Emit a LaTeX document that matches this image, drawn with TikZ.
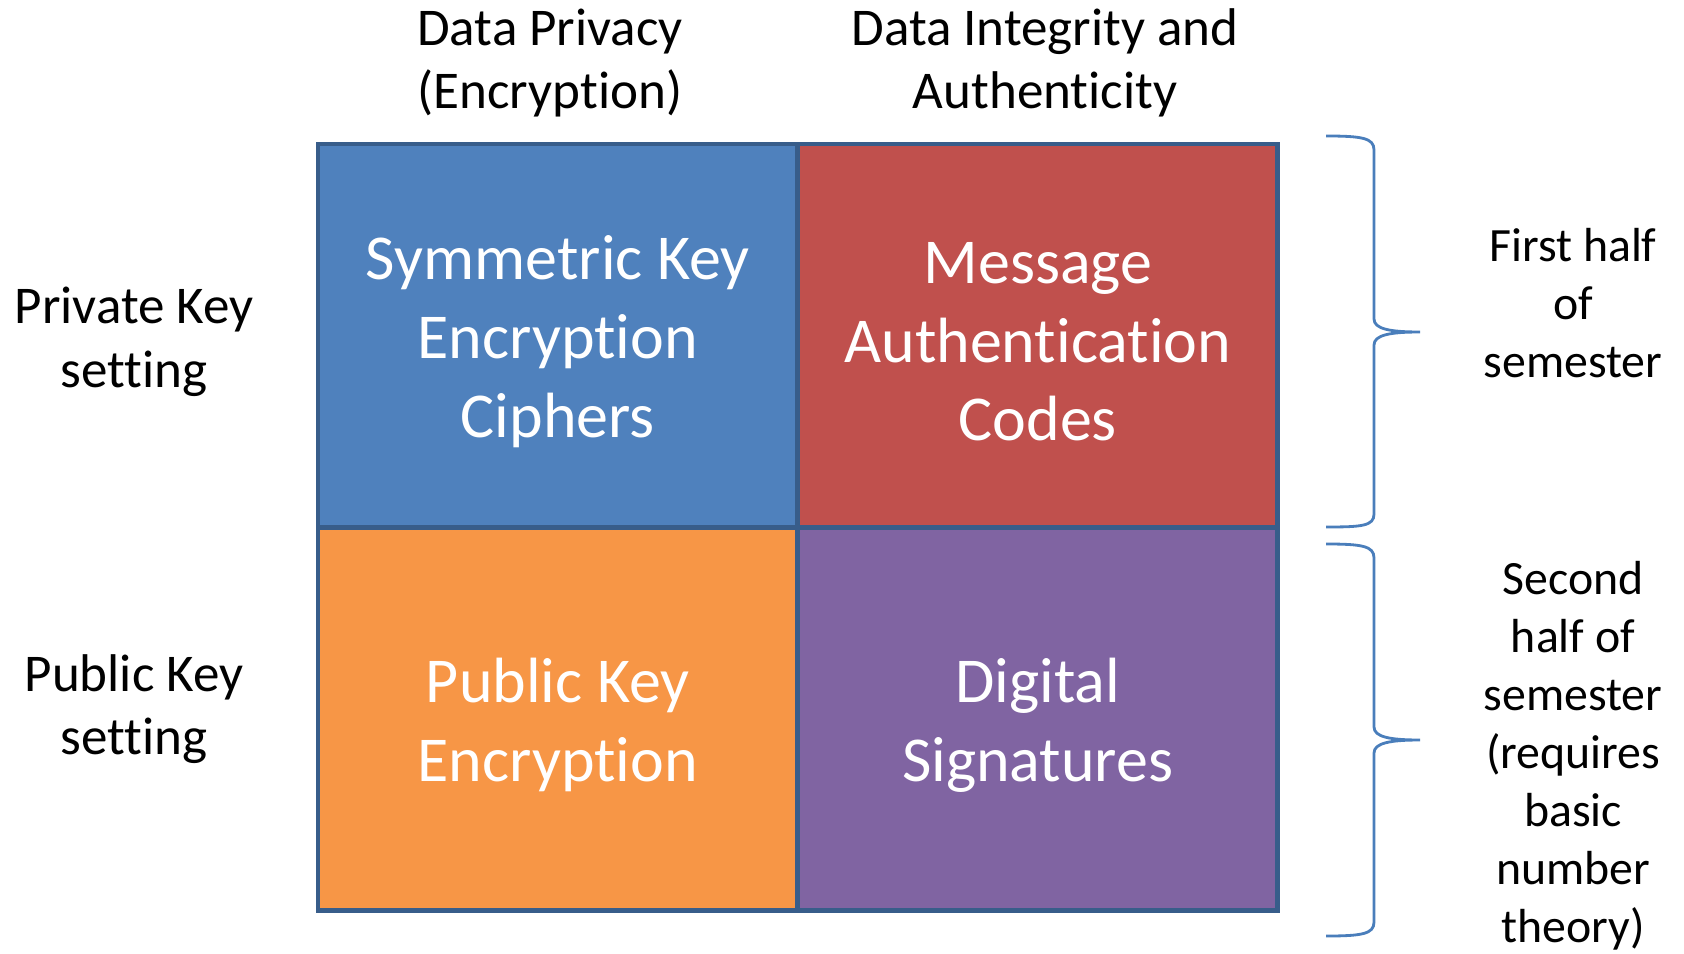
\documentclass[tikz,border=0pt]{standalone}
\usepackage{fontspec}
\setmainfont[Ligatures=NoCommon]{Carlito}
\usepackage{xcolor}
\usetikzlibrary{positioning}

\definecolor{symblue}{HTML}{4F81BD}
\definecolor{macred}{HTML}{C0504D}
\definecolor{pkorange}{HTML}{F79646}
\definecolor{sigpurple}{HTML}{8064A2}
\definecolor{cellborder}{HTML}{385D8A}
\definecolor{braceblue}{HTML}{4A7EBB}

\begin{document}
\begin{tikzpicture}[
  cell/.style={rectangle, draw=cellborder, line width=1.4pt, minimum width=4.795cm, minimum height=3.835cm, inner sep=0pt},
  celltext/.style={text=white, align=center, font=\fontsize{18.2}{22.4}\selectfont},
  head/.style={align=center, font=\fontsize{15.1}{18.1}\selectfont},
  semlabel/.style={align=center, font=\fontsize{13.6}{16.5}\selectfont},
  semesterbrace/.style={draw=braceblue, line width=0.8pt}]
\useasboundingbox (0,0) rectangle (16.84,-9.53);

% the four cells
\node[cell, fill=symblue] (sym) at (5.5775,-3.3575) {};
\node[cell, fill=macred] (mac) at (10.3775,-3.3575) {};
\node[cell, fill=pkorange] (pke) at (5.5775,-7.19) {};
\node[cell, fill=sigpurple] (sig) at (10.3775,-7.19) {};

\node[celltext] (symtext) at ([yshift=-0.06cm]sym.center) {Symmetric Key\\Encryption\\Ciphers};
\node[celltext] (mactext) at ([yshift=-0.06cm]mac.center) {Message\\Authentication\\Codes};
\node[celltext] (pketext) at ([yshift=-0.06cm]pke.center) {Public Key\\Encryption};
\node[celltext] (sigtext) at ([yshift=-0.06cm]sig.center) {Digital\\Signatures};

% column and row headings
\node[head] (privacy) at (5.50,-0.63) {Data Privacy\\(Encryption)};
\node[head] (integrity) at (10.45,-0.63) {Data Integrity and\\Authenticity};
\node[head] (privkey) at (1.34,-3.42) {Private Key\\setting};
\node[head] (pubkey) at (1.34,-7.09) {Public Key\\setting};

% semester braces
\draw[semesterbrace] (13.26,-1.36) .. controls (13.62,-1.36) and (13.74,-1.38) .. (13.74,-1.50)
  -- (13.74,-3.19) .. controls (13.74,-3.29) and (13.90,-3.32) .. (14.20,-3.32)
  .. controls (13.90,-3.32) and (13.74,-3.35) .. (13.74,-3.45)
  -- (13.74,-5.14) .. controls (13.74,-5.26) and (13.62,-5.27) .. (13.26,-5.27);
\draw[semesterbrace] (13.26,-5.44) .. controls (13.62,-5.44) and (13.74,-5.46) .. (13.74,-5.58)
  -- (13.74,-7.27) .. controls (13.74,-7.37) and (13.90,-7.40) .. (14.20,-7.40)
  .. controls (13.90,-7.40) and (13.74,-7.43) .. (13.74,-7.53)
  -- (13.74,-9.22) .. controls (13.74,-9.34) and (13.62,-9.36) .. (13.26,-9.36);

\node[semlabel] (firsthalf) at (15.73,-3.03) {First half\\of\\semester};
\node[semlabel] (secondhalf) at (15.73,-7.56) {Second\\half of\\semester\\(requires\\basic\\number\\theory)};
\end{tikzpicture}
\end{document}
